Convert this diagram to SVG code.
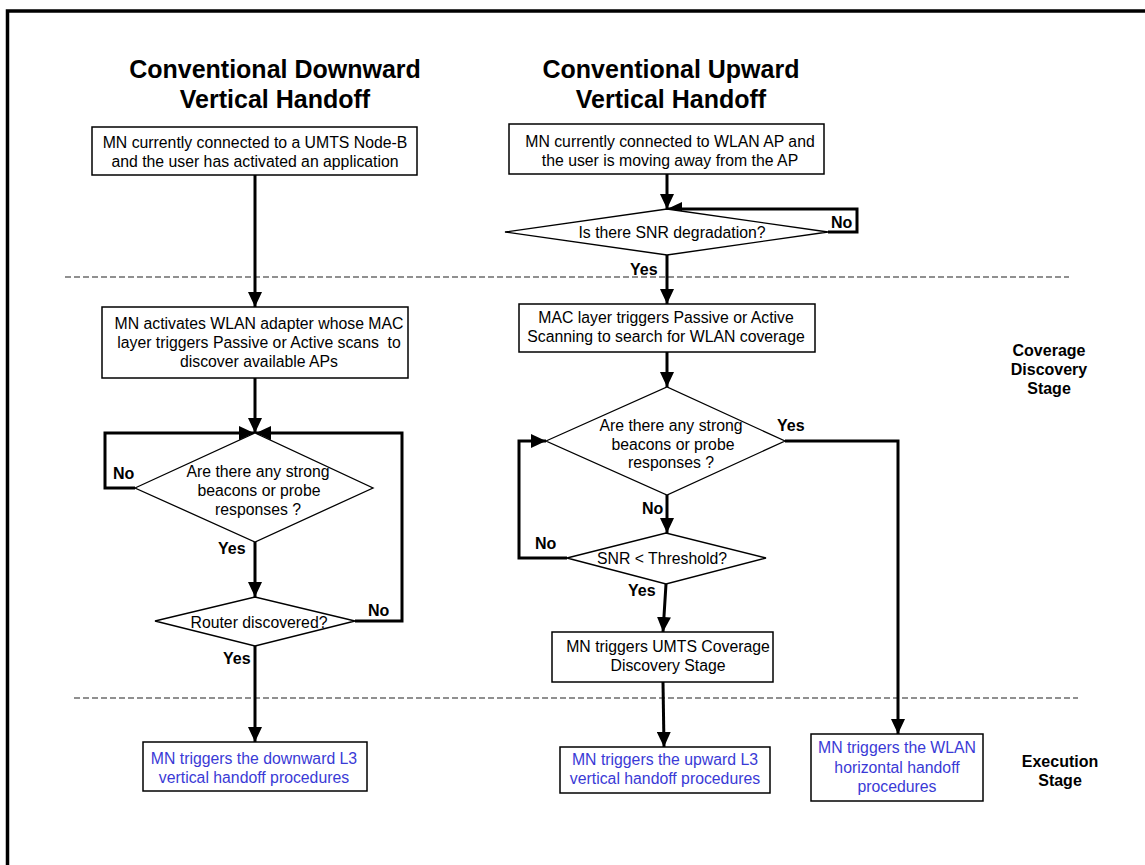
<svg xmlns="http://www.w3.org/2000/svg" width="1145" height="865" viewBox="0 0 1145 865">
<style>
.box{fill:#fff;stroke:#000;stroke-width:1.5}
.dia{fill:#fff;stroke:#000;stroke-width:1.3}
.t{font-family:"Liberation Sans",Arial,sans-serif;font-size:15.8px;fill:#000;text-anchor:middle}
.blue{fill:#3a3ad6}
.title{font-family:"Liberation Sans",Arial,sans-serif;font-size:25px;font-weight:bold;fill:#000;text-anchor:middle}
.lbl{font-family:"Liberation Sans",Arial,sans-serif;font-size:16px;font-weight:bold;fill:#000}
.stage{font-family:"Liberation Sans",Arial,sans-serif;font-size:16px;font-weight:bold;fill:#000;text-anchor:middle}
.c{fill:none;stroke:#000;stroke-width:3}
.dash{fill:none;stroke:#222;stroke-width:1.2;stroke-dasharray:6 3}
</style>
<defs>
<marker id="ah" markerUnits="userSpaceOnUse" markerWidth="15" markerHeight="14" refX="15" refY="7" orient="auto">
<path d="M0,0 L15,7 L0,14 z" fill="#000"/>
</marker>
</defs>
<rect width="1145" height="865" fill="#fff"/>
<g id="frame">
<path d="M7.5,865 V11 H1145" fill="none" stroke="#000" stroke-width="3.5"/>
</g>
<g id="dividers">
<line class="dash" x1="65" y1="277" x2="1069" y2="277"/>
<line class="dash" x1="74" y1="698" x2="1078" y2="698"/>
</g>
<g id="titles">
<text class="title" x="275" y="78">Conventional Downward</text>
<text class="title" x="275" y="108">Vertical Handoff</text>
<text class="title" x="671" y="78">Conventional Upward</text>
<text class="title" x="671" y="108">Vertical Handoff</text>
</g>
<g id="stages">
<text class="stage" x="1049" y="356">Coverage</text>
<text class="stage" x="1049" y="375">Discovery</text>
<text class="stage" x="1049" y="394">Stage</text>
<text class="stage" x="1060" y="767">Execution</text>
<text class="stage" x="1060" y="786">Stage</text>
</g>
<g id="connectors">
<path class="c" d="M255,175 V307" marker-end="url(#ah)"/>
<path class="c" d="M255,378 V433" marker-end="url(#ah)"/>
<path class="c" d="M135,488 H105 V433 H254" marker-end="url(#ah)"/>
<path class="c" d="M355,621 H402 V433 H256" marker-end="url(#ah)"/>
<path class="c" d="M255,542 V597" marker-end="url(#ah)"/>
<path class="c" d="M255,646 V742" marker-end="url(#ah)"/>
<path class="c" d="M667,174 V209" marker-end="url(#ah)"/>
<path class="c" d="M828,232 H857 V209 H667" marker-end="url(#ah)"/>
<path class="c" d="M667,255 V304" marker-end="url(#ah)"/>
<path class="c" d="M667,352 V387" marker-end="url(#ah)"/>
<path class="c" d="M785,441 H898 V734" marker-end="url(#ah)"/>
<path class="c" d="M667,495 V533" marker-end="url(#ah)"/>
<path class="c" d="M567,558 H519 V441 H546" marker-end="url(#ah)"/>
<path class="c" d="M666,584 L663,632" marker-end="url(#ah)"/>
<path class="c" d="M663,682 L664,747" marker-end="url(#ah)"/>
</g>
<g id="labels">
<text class="lbl" x="831" y="228">No</text>
<text class="lbl" x="630" y="275">Yes</text>
<text class="lbl" x="113" y="479">No</text>
<text class="lbl" x="218" y="554">Yes</text>
<text class="lbl" x="368" y="616">No</text>
<text class="lbl" x="223" y="664">Yes</text>
<text class="lbl" x="777" y="431">Yes</text>
<text class="lbl" x="642" y="514">No</text>
<text class="lbl" x="535" y="549">No</text>
<text class="lbl" x="628" y="596">Yes</text>
</g>
<g id="n1">
<rect class="box" x="92" y="127" width="325" height="48"/>
<text class="t" x="255" y="148">MN currently connected to a UMTS Node-B</text>
<text class="t" x="255" y="167">and the user has activated an application</text>
</g>
<g id="n2">
<rect class="box" x="102" y="307" width="306" height="71"/>
<text class="t" x="259" y="329">MN activates WLAN adapter whose MAC</text>
<text class="t" x="259" y="348" xml:space="preserve">layer triggers Passive or Active scans  to</text>
<text class="t" x="259" y="367">discover available APs</text>
</g>
<g id="n3">
<polygon class="dia" points="135,488 255,433 373,488 255,542"/>
<text class="t" x="258" y="477">Are there any strong</text>
<text class="t" x="259" y="496">beacons or probe</text>
<text class="t" x="258" y="515">responses ?</text>
</g>
<g id="n4">
<polygon class="dia" points="155,621 255,597 355,621 255,646"/>
<text class="t" x="259" y="628">Router discovered?</text>
</g>
<g id="n5">
<rect class="box" x="143" y="742" width="224" height="49"/>
<text class="t blue" x="254" y="764">MN triggers the downward L3</text>
<text class="t blue" x="254" y="783">vertical handoff procedures</text>
</g>
<g id="n6">
<rect class="box" x="509" y="124" width="315" height="50"/>
<text class="t" x="670" y="147">MN currently connected to WLAN AP and</text>
<text class="t" x="670" y="166">the user is moving away from the AP</text>
</g>
<g id="n7">
<polygon class="dia" points="505,232 667,209 828,232 667,255"/>
<text class="t" x="672" y="238">Is there SNR degradation?</text>
</g>
<g id="n8">
<rect class="box" x="519" y="304" width="296" height="48"/>
<text class="t" x="666" y="323">MAC layer triggers Passive or Active</text>
<text class="t" x="666" y="342">Scanning to search for WLAN coverage</text>
</g>
<g id="n9">
<polygon class="dia" points="546,441 667,387 785,441 667,495"/>
<text class="t" x="671" y="431">Are there any strong</text>
<text class="t" x="673" y="450">beacons or probe</text>
<text class="t" x="671" y="468">responses ?</text>
</g>
<g id="n10">
<polygon class="dia" points="567,558 666,533 766,558 666,584"/>
<text class="t" x="662" y="564">SNR &lt; Threshold?</text>
</g>
<g id="n11">
<rect class="box" x="552" y="632" width="221" height="50"/>
<text class="t" x="668" y="652">MN triggers UMTS Coverage</text>
<text class="t" x="668" y="671">Discovery Stage</text>
</g>
<g id="n12">
<rect class="box" x="560" y="747" width="210" height="46"/>
<text class="t blue" x="665" y="765">MN triggers the upward L3</text>
<text class="t blue" x="665" y="784">vertical handoff procedures</text>
</g>
<g id="n13">
<rect class="box" x="811" y="734" width="172" height="67"/>
<text class="t blue" x="897" y="753">MN triggers the WLAN</text>
<text class="t blue" x="897" y="773">horizontal handoff</text>
<text class="t blue" x="897" y="792">procedures</text>
</g>
</svg>
